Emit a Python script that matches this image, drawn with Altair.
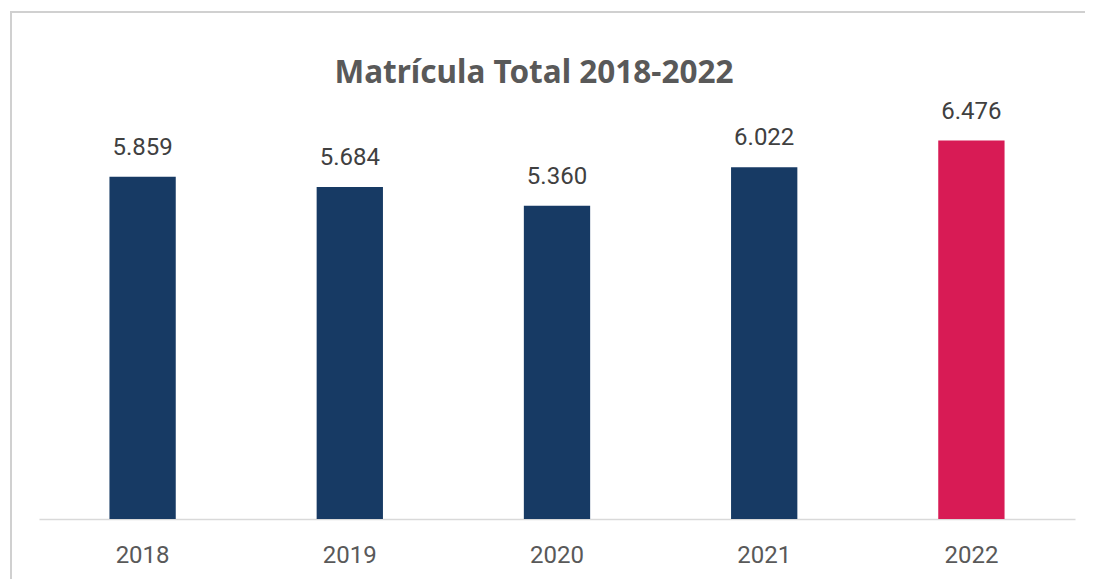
import altair as alt
import pandas as pd

years = ["2018", "2019", "2020", "2021", "2022"]
values = [5.859, 5.684, 5.360, 6.022, 6.476]
colors = ["#173A64", "#173A64", "#173A64", "#173A64", "#D81B55"]
title_text = ["Matrícula Total 2018-2022"]

df = pd.DataFrame({"year": years, "value": values, "color": colors})
tdf = pd.DataFrame({"t": title_text})

W, H = 1036, 409

base = alt.Chart(df).encode(
    x=alt.X("year:N", sort=years,
            scale=alt.Scale(paddingInner=0.68, paddingOuter=0.34),
            axis=alt.Axis(title=None, ticks=False, grid=False, domainColor="#D9D9D9",
                          domainWidth=1.5, labelFontSize=24, labelColor="#595959",
                          labelFont="Roboto", labelPadding=36, labelAngle=0,
                          labelBaseline="middle")),
    y=alt.Y("value:Q", scale=alt.Scale(domain=[0, 7]), axis=None),
)

bars = base.mark_bar().encode(color=alt.Color("color:N", scale=None))
labels = base.mark_text(baseline="bottom", dy=-17, fontSize=24, font="Roboto",
                        color="#404040").encode(text=alt.Text("value:Q", format=".3f"))

border = alt.Chart(df).mark_rect(fill=None, stroke="#D0D0D0", strokeWidth=2).encode(
    x=alt.value(-28), x2=alt.value(1100), y=alt.value(-98), y2=alt.value(700)
)

title = alt.Chart(tdf).mark_text(font="Noto Sans", fontSize=31.5, fontWeight="bold",
                                 color="#595959", align="center", baseline="middle").encode(
    text="t:N", x=alt.value(W / 2 - 23), y=alt.value(-36)
)

chart = alt.layer(border, bars, labels, title).properties(
    width=W, height=H,
    padding={"left": 31, "top": 102, "right": 10, "bottom": 60},
    autosize=alt.AutoSizeParams(type="none"),
).configure_view(stroke=None)

chart.save("out.html", embed_options={"renderer": "svg", "actions": False})
